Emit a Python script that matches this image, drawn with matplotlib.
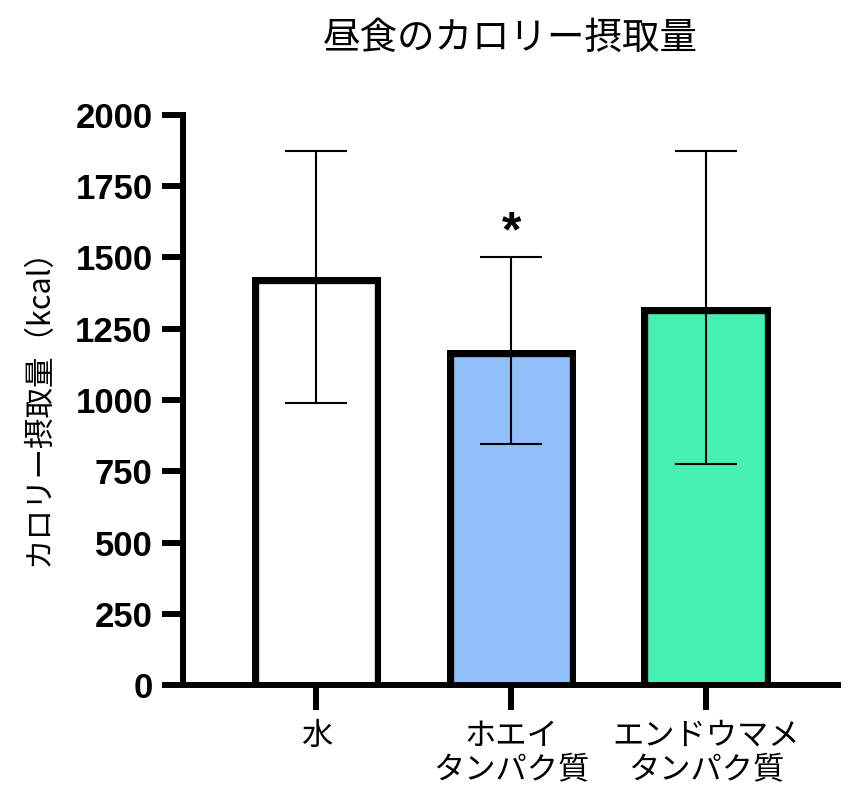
import matplotlib
matplotlib.use("Agg")
import matplotlib.pyplot as plt
import numpy as np

# Data
categories = ["水", "ホエイ\nタンパク質", "エンドウマメ\nタンパク質"]
means = [1433, 1175, 1325]
sds = [442, 328, 548]
colors = ["#FFFFFF", "#90BFF9", "#45F0B0"]
yticks = [0, 250, 500, 750, 1000, 1250, 1500, 1750, 2000]
title = "昼食のカロリー摂取量"
ylabel = "カロリー摂取量（kcal）"

jp = ["Noto Sans CJK JP", "DejaVu Sans"]
num = ["Liberation Sans", "DejaVu Sans"]

fig = plt.figure(figsize=(8.6, 8.05), dpi=100)
ax = fig.add_axes([183/860, 1-685/805, (838-183)/860, (685-115)/805])

x = np.arange(len(categories))
base = -60  # bars start below the axis so the bottom stroke is hidden by clipping
heights = [m - base for m in means]
bars = ax.bar(x, heights, bottom=base, width=0.664, color=colors, edgecolor="black",
              linewidth=9.6, zorder=2)
for b in bars:
    # inner stroke only; keep the axes clip box
    b.set_clip_path(b.get_path(), b.get_transform())
ax.errorbar(x, means, yerr=sds, fmt="none", ecolor="black", elinewidth=1.5,
            capsize=22.5, capthick=1.5, zorder=3)

ax.annotate("*", xy=(x[1], means[1] + sds[1]), xytext=(0, 0), textcoords="offset points",
            ha="center", va="bottom", fontsize=36, fontweight="bold", family=num)

ax.set_xlim(-0.685, 2.677)
ax.set_ylim(0, 2000)
ax.set_yticks(yticks)
ax.set_yticklabels([str(t) for t in yticks], fontsize=25, fontweight="bold", family=num)
ax.set_xticks(x)
ax.set_xticklabels(categories, fontsize=22.5, family=jp, linespacing=1.12)

for s in ["top", "right"]:
    ax.spines[s].set_visible(False)
for s in ["left", "bottom"]:
    ax.spines[s].set_linewidth(4.3)
    ax.spines[s].set_capstyle("projecting")
    ax.spines[s].set_zorder(4)

ax.tick_params(axis="y", length=15, width=4.3, pad=7)
ax.tick_params(axis="x", length=18, width=4.3, pad=7)

ax.set_ylabel(ylabel, fontsize=22, family=jp, labelpad=15)
ax.set_title(title, fontsize=27, family=jp, pad=48)

fig.savefig("out.png", dpi=100)
